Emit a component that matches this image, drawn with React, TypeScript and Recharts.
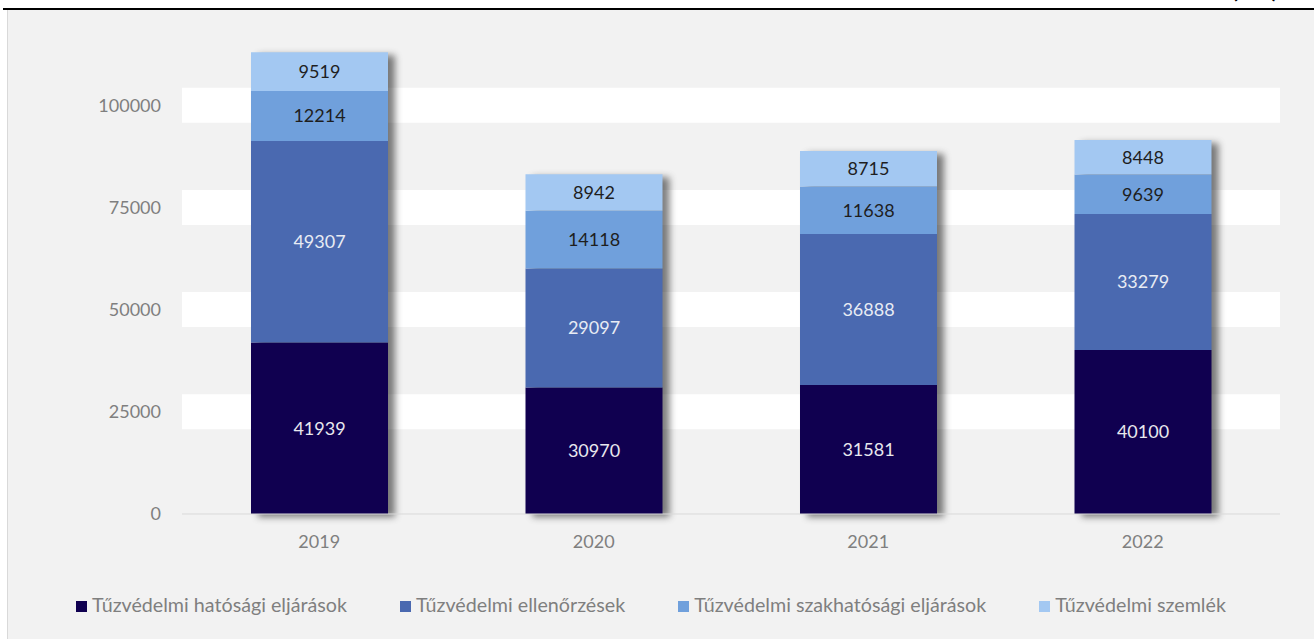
import React from "react";
import { BarChart, Bar, XAxis, YAxis, CartesianGrid, Legend, LabelList } from "recharts";

const years = ["2019", "2020", "2021", "2022"];
const hatosagi = [41939, 30970, 31581, 40100];
const ellenorzesek = [49307, 29097, 36888, 33279];
const szakhatosagi = [12214, 14118, 11638, 9639];
const szemlek = [9519, 8942, 8715, 8448];
const yTicks = [0, 25000, 50000, 75000, 100000];
const bandValues = [25000, 50000, 75000, 100000];

const series = [
  { key: "hatosagi", name: "Tűzvédelmi hatósági eljárások", color: "#100050", text: "#e8e8ee" },
  { key: "ellenorzesek", name: "Tűzvédelmi ellenőrzések", color: "#4a69b0", text: "#e8ecf4" },
  { key: "szakhatosagi", name: "Tűzvédelmi szakhatósági eljárások", color: "#70a0dc", text: "#1e1e1e" },
  { key: "szemlek", name: "Tűzvédelmi szemlék", color: "#a3c8f2", text: "#1e1e1e" },
];

const data = years.map((year, i) => ({
  year,
  hatosagi: hatosagi[i],
  ellenorzesek: ellenorzesek[i],
  szakhatosagi: szakhatosagi[i],
  szemlek: szemlek[i],
  total: hatosagi[i] + ellenorzesek[i] + szakhatosagi[i] + szemlek[i],
}));

const ShadowShape = (props: any) => (
  <rect x={props.x} y={props.y} width={props.width} height={props.height} fill="#000" filter="url(#barShadow)" />
);

// keep the series order (recharts sorts the payload by name)
const renderLegend = () => (
  <div style={{ display: "flex", justifyContent: "center", gap: 53, fontSize: 19.7, color: "#7f7f7f", lineHeight: "24px" }}>
    {series.map((s) => (
      <div key={s.key} style={{ display: "flex", alignItems: "center" }}>
        <span style={{ width: 11, height: 11, background: s.color, marginRight: 5, marginTop: 2, display: "inline-block" }} />
        {s.name}
      </div>
    ))}
  </div>
);

export default function App() {
  return (
    <div style={{ position: "absolute", left: 0, top: 0, width: 1314, height: 639, fontFamily: "Lato", overflow: "hidden" }}>
      <svg width={0} height={0} style={{ position: "absolute" }}>
        <defs>
          <filter id="barShadow" x="-20%" y="-10%" width="150%" height="130%">
            <feGaussianBlur in="SourceAlpha" stdDeviation="3.5" />
            <feOffset dx="7" dy="3" result="b" />
            <feFlood floodColor="#000" floodOpacity="0.5" />
            <feComposite in2="b" operator="in" />
          </filter>
        </defs>
      </svg>
      <div style={{ position: "absolute", left: 3, top: 8, width: 1311, height: 2, background: "#000" }} />
      <div style={{ position: "absolute", left: 7, top: 10, width: 1307, height: 629, background: "#f2f2f2", borderLeft: "1px solid #d9d9d9" }} />
      <svg width={1314} height={20} style={{ position: "absolute", left: 0, top: 0 }}>
        <text x={1230} y={-3} fontSize={31} fill="#000">(db)</text>
      </svg>
      <div style={{ position: "absolute", left: 0, top: 0 }}>
        <BarChart
          width={1314}
          height={639}
          data={data}
          margin={{ top: 3, right: 34, bottom: 95, left: 102 }}
          barSize={137}
          barGap={-137}
        >
          <CartesianGrid vertical={false} horizontalValues={bandValues} stroke="#ffffff" strokeWidth={35} />
          <XAxis
            dataKey="year"
            tickLine={false}
            axisLine={{ stroke: "#d9d9d9" }}
            tickMargin={15}
            tick={{ fill: "#7f7f7f", fontSize: 18 }}
          />
          <YAxis
            domain={[0, 125000]}
            ticks={yTicks}
            axisLine={false}
            tickLine={false}
            tickMargin={15}
            width={80}
            tick={{ fill: "#7f7f7f", fontSize: 18 }}
          />
          <Bar dataKey="total" stackId="shadow" legendType="none" shape={ShadowShape} isAnimationActive={false} />
          {series.map((s) => (
            <Bar key={s.key} dataKey={s.key} name={s.name} stackId="a" fill={s.color} legendType="square" isAnimationActive={false}>
              <LabelList dataKey={s.key} position="center" fill={s.text} fontSize={18} />
            </Bar>
          ))}
          <Legend
            verticalAlign="middle"
            align="center"
            layout="horizontal"
            content={renderLegend}
            wrapperStyle={{ top: 593, left: 0, width: 1302 }}
          />
        </BarChart>
      </div>
    </div>
  );
}
